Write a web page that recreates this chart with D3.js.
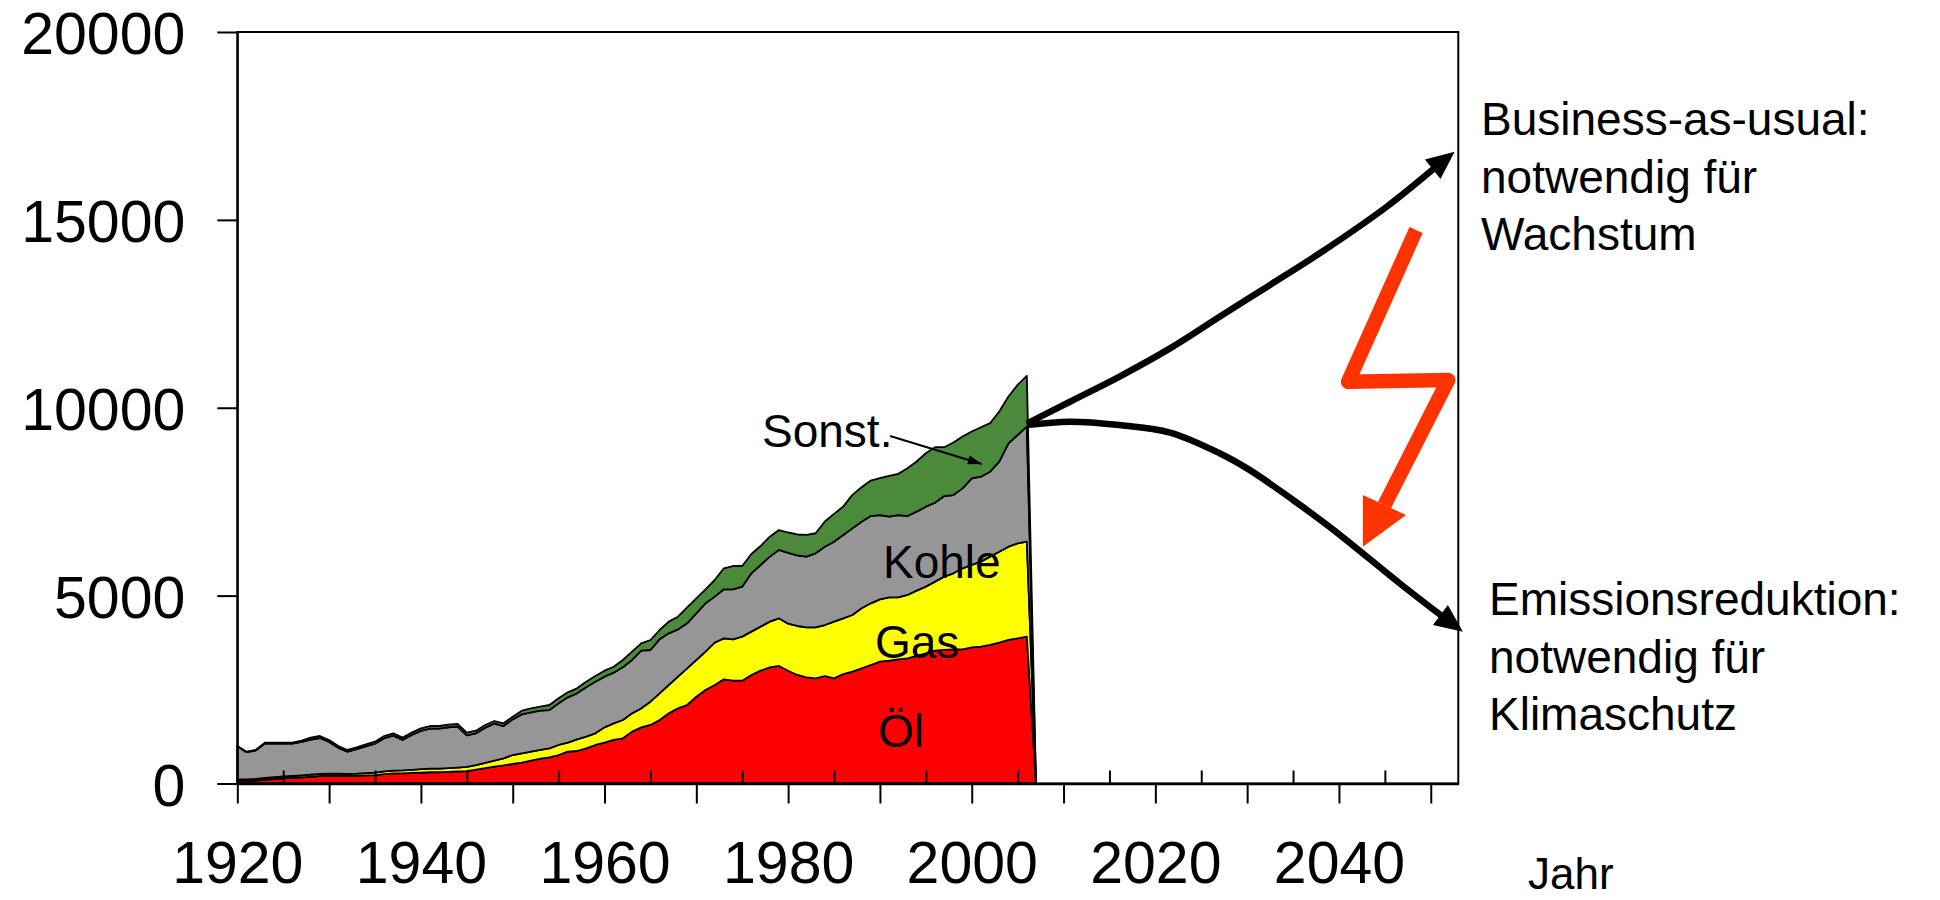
<!DOCTYPE html>
<html><head><meta charset="utf-8">
<script src="https://cdn.jsdelivr.net/npm/d3@7"></script>
<style>
html,body{margin:0;padding:0;background:#fff;}
svg{display:block;font-family:"Liberation Sans",Arial,Helvetica,sans-serif;}
</style></head><body>
<svg id="chart" width="1940" height="900"></svg>
<script>
// ---- data ----
const years = d3.range(1920, 2008);
const oel = [70,70,80,100,120,140,150,165,180,200,
  205,205,200,205,215,225,250,270,270,280,
  290,300,300,310,320,330,370,410,450,480,
  519,554,608,661,696,758,847,865,936,1025,
  1087,1158,1202,1380,1495,1557,1690,1867,2000,2089,
  2311,2489,2622,2773,2737,2737,2888,3004,3092,3128,
  3000,2888,2825,2799,2861,2799,2914,2976,3065,3154,
  3243,3270,3305,3332,3394,3465,3536,3554,3571,3571,
  3625,3643,3687,3749,3820,3865,3909,0];
const gas = [40,40,45,50,50,50,50,50,55,55,
  55,55,55,57,60,65,70,75,80,85,
  90,95,95,100,105,110,120,140,160,190,
  239,249,239,231,240,267,240,311,311,310,
  408,443,488,487,505,621,710,755,843,976,
  976,1020,1126,1090,1100,1171,1153,1170,1215,1268,
  1254,1304,1331,1357,1357,1508,1482,1508,1597,1641,
  1658,1684,1649,1685,1738,1774,1836,1951,2023,2156,
  2191,2262,2351,2420,2482,2526,2526,0];
const kohle = [880,725,750,916,894,872,860,895,935,955,
  845,690,590,651,715,768,885,930,810,925,
  1022,1067,1067,1087,1088,843,845,936,982,860,
  949,1037,1048,1045,1019,1108,1206,1224,1313,1375,
  1348,1349,1402,1420,1535,1375,1437,1375,1257,1198,
  1243,1287,1225,1305,1331,1331,1553,1642,1731,1819,
  1886,1876,1880,1969,2084,2128,2217,2306,2305,2323,
  2244,2146,2191,2101,2102,2128,2101,2145,2083,2127,
  2304,2260,2260,2395,2750,2883,3061,0];
const sonst = [10,11,17,20,22,24,26,30,50,54,
  53,48,47,50,53,55,59,61,60,63,
  66,68,68,69,70,70,71,71,71,72,
  71,97,106,107,134,134,134,133,149,151,
  159,158,195,221,195,266,248,310,340,426,
  398,372,443,559,620,549,514,504,530,531,
  540,559,580,535,669,740,757,891,918,945,
  980,1087,1095,1273,1335,1423,1477,1300,1397,1380,
  1247,1317,1291,1336,1247,1335,1353,0];

const seriesKeys = ["oel","gas","kohle","sonst"];
const seriesLabels = ["Öl","Gas","Kohle","Sonst."];
const seriesColors = ["#ff0000","#ffff00","#969696","#4a8a3a"];

const yTicks = [0,5000,10000,15000,20000];
const xMajorTicks = [1920,1930,1940,1950,1960,1970,1980,1990,2000,2010,2020,2030,2040,2050];
const xLabelYears = [1920,1940,1960,1980,2000,2020,2040];
const xMinorTicks = [1925,1935,1945,1955,1965,1975,1985,1995,2005,2015,2025,2035,2045];

// scenario curves (year, value)
const bauYears  = [2006, 2010.7, 2016.1, 2021.6, 2027.0, 2032.5, 2037.9, 2045.2, 2050.8];
const bauValues = [9580, 10160, 10830, 11580, 12420, 13270, 14110, 15350, 16460];
const bauTip = [2052.6, 16810];
const redYears  = [2006, 2010.7, 2016.1, 2021.6, 2027.0, 2030.3, 2035.0, 2039.4, 2046.6, 2051.3];
const redValues = [9540, 9630, 9540, 9340, 8790, 8340, 7545, 6750, 5330, 4440];
const redTip = [2053.5, 4040];

// lightning bolt (year, value)
const boltYears  = [2048.4, 2041.0, 2051.9, 2044.96];
const boltValues = [14730, 10690, 10740, 7412];
const boltHeadYears  = [2042.6, 2042.6, 2047.3];
const boltHeadValues = [6302, 7678, 7146];

// "Sonst." pointer (year, value)
const sonstArrowYears = [1991.1, 2001.1];
const sonstArrowValues = [9248, 8503];

// ---- chart ----
const svg = d3.select("#chart");
const mLeft = 237.3, mRight = 1458.3, mTop = 32, mBottom = 783.5;
const x = d3.scaleLinear().domain([1920, 2053]).range([mLeft, mRight]);
const y = d3.scaleLinear().domain([0, 20000]).range([mBottom, mTop]);

const table = years.map((yr, i) => ({year: yr, oel: oel[i], gas: gas[i], kohle: kohle[i], sonst: sonst[i]}));
const stacked = d3.stack().keys(seriesKeys)(table);
const area = d3.area().x(d => x(d.data.year)).y0(d => y(d[0])).y1(d => y(d[1]));

svg.append("g").selectAll("path").data(stacked).join("path")
  .attr("d", area)
  .attr("fill", (d, i) => seriesColors[i])
  .attr("stroke", "#000").attr("stroke-width", 1.8).attr("stroke-linejoin", "round");

// frame
svg.append("rect").attr("x", mLeft).attr("y", mTop).attr("width", mRight - mLeft).attr("height", mBottom - mTop)
  .attr("fill", "none").attr("stroke", "#000").attr("stroke-width", 2);

const fontAxis = 59;
// y axis
const yAxis = svg.append("g").attr("transform", `translate(${mLeft},0)`)
  .call(d3.axisLeft(y).tickValues(yTicks).tickSize(20).tickSizeOuter(0).tickPadding(32).tickFormat(d3.format("d")));
yAxis.select(".domain").attr("stroke-width", 2);
yAxis.selectAll(".tick line").attr("stroke-width", 2);
yAxis.selectAll("text").attr("font-size", fontAxis).attr("fill", "#000").attr("dy", "0.37em")
  .attr("font-family", "Liberation Sans, Arial, sans-serif");

// x axis (outward)
const xAxis = svg.append("g").attr("transform", `translate(0,${mBottom})`)
  .call(d3.axisBottom(x).tickValues(xMajorTicks).tickSize(20).tickSizeOuter(0).tickPadding(38)
    .tickFormat(d => xLabelYears.includes(d) ? String(d) : ""));
xAxis.select(".domain").attr("stroke-width", 2.5);
xAxis.selectAll(".tick line").attr("stroke-width", 2);
xAxis.selectAll("text").attr("font-size", fontAxis).attr("fill", "#000")
  .attr("font-family", "Liberation Sans, Arial, sans-serif");

// x axis (inward minor ticks)
const xAxis2 = svg.append("g").attr("transform", `translate(0,${mBottom})`)
  .call(d3.axisBottom(x).tickValues(xMinorTicks).tickSize(-13).tickSizeOuter(0).tickFormat(""));
xAxis2.select(".domain").remove();
xAxis2.selectAll(".tick line").attr("stroke-width", 2);

// axis title
svg.append("text").attr("x", 1528).attr("y", 889).attr("font-size", 44).text("Jahr");

// series labels
const lab = svg.append("g").attr("font-size", 46).attr("fill", "#000");
lab.append("text").attr("x", 762).attr("y", 447).text(seriesLabels[3]);
lab.append("text").attr("x", 883).attr("y", 578).text(seriesLabels[2]);
lab.append("text").attr("x", 875).attr("y", 658).text(seriesLabels[1]);
lab.append("text").attr("x", 878).attr("y", 747).text(seriesLabels[0]);

function arrowHead(g, from, tip, len, wid, color) {
  const dx = tip[0] - from[0], dy = tip[1] - from[1];
  const d = Math.hypot(dx, dy), ux = dx / d, uy = dy / d;
  const bx = tip[0] - ux * len, by = tip[1] - uy * len;
  const pts = [tip, [bx - uy * wid / 2, by + ux * wid / 2], [bx + uy * wid / 2, by - ux * wid / 2]];
  g.append("polygon").attr("points", pts.map(p => p.join(",")).join(" ")).attr("fill", color);
}

// Sonst. pointer
const sa = sonstArrowYears.map((yr, i) => [x(yr), y(sonstArrowValues[i])]);
svg.append("line").attr("x1", sa[0][0]).attr("y1", sa[0][1]).attr("x2", sa[1][0]).attr("y2", sa[1][1])
  .attr("stroke", "#000").attr("stroke-width", 2);
arrowHead(svg, sa[0], sa[1], 14, 9, "#000");

// scenario curves
const line = d3.line().x(d => x(d[0])).y(d => y(d[1])).curve(d3.curveCatmullRom.alpha(0.5));
const bauPts = bauYears.map((yr, i) => [yr, bauValues[i]]);
const redPts = redYears.map((yr, i) => [yr, redValues[i]]);
[[bauPts, bauTip], [redPts, redTip]].forEach(([pts, tip]) => {
  svg.append("path").attr("d", line(pts)).attr("fill", "none").attr("stroke", "#000")
    .attr("stroke-width", 6.5).attr("stroke-linecap", "butt");
  const last = pts[pts.length - 1];
  const from = [x(last[0]), y(last[1])];
  const t = [x(tip[0]), y(tip[1])];
  const dx = t[0] - from[0], dy = t[1] - from[1];
  const dd = Math.hypot(dx, dy);
  const f = [t[0] - dx / dd * 40, t[1] - dy / dd * 40];
  arrowHead(svg, f, t, 28, 25, "#000");
});

// lightning bolt
const boltPts = boltYears.map((yr, i) => [x(yr), y(boltValues[i])]);
svg.append("path").attr("d", d3.line()(boltPts)).attr("fill", "none").attr("stroke", "#ff3300")
  .attr("stroke-width", 14.5).attr("stroke-linejoin", "round").attr("stroke-linecap", "butt");
const bh = boltHeadYears.map((yr, i) => [x(yr), y(boltHeadValues[i])]);
svg.append("polygon").attr("points", bh.map(p => p.join(",")).join(" ")).attr("fill", "#ff3300");

// right annotations
const ann = svg.append("g").attr("font-size", 46).attr("fill", "#000");
const ann1 = ["Business-as-usual:", "notwendig für", "Wachstum"];
const ann2 = ["Emissionsreduktion:", "notwendig für", "Klimaschutz"];
ann1.forEach((t, i) => ann.append("text").attr("x", 1481).attr("y", 135 + i * 57.7).text(t));
ann2.forEach((t, i) => ann.append("text").attr("x", 1489).attr("y", 615 + i * 57.5).text(t));
</script>
</body></html>
